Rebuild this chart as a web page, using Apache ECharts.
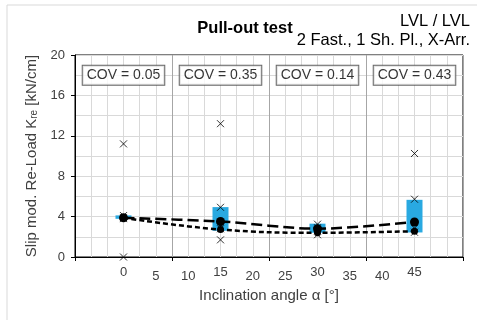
<!DOCTYPE html>
<html>
<head>
<meta charset="utf-8">
<script src="https://cdn.jsdelivr.net/npm/echarts@6/dist/echarts.min.js"></script>
<style>
  html, body { margin: 0; padding: 0; background: #fff; }
  #chart { width: 477px; height: 320px; }
</style>
</head>
<body>
<div id="chart"></div>
<script>
  // inclination angles (x positions of the groups)
  var angles = [0, 15, 30, 45]
  var covLabels = ['COV = 0.05', 'COV = 0.35', 'COV = 0.14', 'COV = 0.43']
  // blue range bars [angle, low, high]
  var rangeBars = [[0, 3.78, 4.12], [15, 2.6, 4.94], [30, 2.4, 3.3], [45, 2.43, 5.66]]
  // mean lines
  var lineA = [3.88, 3.52, 2.8, 3.47]
  var lineB = [3.88, 2.72, 2.4, 2.55]
  // single test values
  var singles = [
    [0, 11.2], [0, 0], [0, 4.1], [0, 3.9], [0, 3.8],
    [15, 13.2], [15, 4.92], [15, 1.7], [15, 2.8], [15, 3.0],
    [30, 3.25], [30, 2.2], [30, 2.6], [30, 2.9],
    [45, 10.25], [45, 5.72], [45, 2.85], [45, 2.45]
  ]
  var yTicks = [0, 4, 8, 12, 16, 20]

  var minorGrey = '#d9d9d9'
  var majorGrey = '#a6a6a6'
  var crossPath = 'path://M0,0L10,10M10,0L0,10'

  var chart = echarts.init(document.getElementById('chart'))
  chart.setOption({
    animation: false,
    textStyle: { fontFamily: 'Liberation Sans, Arial, sans-serif' },
    graphic: [
      { type: 'rect', shape: { x: 7, y: 5, width: 500, height: 400 }, style: { fill: 'none', stroke: minorGrey, lineWidth: 1 }, z: -1 },
      { type: 'text', x: 245, y: 28, style: { text: 'Pull-out test', font: 'bold 16.5px Liberation Sans', fill: '#000', align: 'center', verticalAlign: 'middle' } },
      { type: 'text', x: 470, y: 21, style: { text: 'LVL / LVL', font: '16.5px Liberation Sans', fill: '#000', align: 'right', verticalAlign: 'middle' } },
      { type: 'text', x: 470, y: 40, style: { text: '2 Fast., 1 Sh. Pl., X-Arr.', font: '16.5px Liberation Sans', fill: '#000', align: 'right', verticalAlign: 'middle' } }
    ],
    grid: {
      left: 75,
      right: 14,
      top: 55,
      bottom: 63,
      show: true,
      borderColor: '#000',
      borderWidth: 1,
      backgroundColor: 'transparent'
    },
    xAxis: [
      {
        type: 'value',
        position: 'bottom',
        min: -7.5,
        max: 52.5,
        interval: 2.5,
        name: 'Inclination angle α [°]',
        nameLocation: 'middle',
        nameGap: 31,
        nameTextStyle: { fontSize: 15, color: '#404040' },
        axisLine: { show: true, onZero: false, lineStyle: { color: '#000', width: 1 } },
        axisTick: { show: false },
        axisLabel: {
          margin: 9,
          fontSize: 13,
          color: '#404040',
          formatter: function (v) {
            if (v < 0 || v > 45 || v % 5 !== 0) return ''
            return v % 15 === 0 ? '{a|' + v + '}' : '{b|' + v + '}'
          },
          rich: {
            a: { fontSize: 13, color: '#404040', padding: [0, 0, 0, 0] },
            b: { fontSize: 13, color: '#404040', padding: [4, 0, 0, 0] }
          }
        },
        splitLine: {
          show: true,
          lineStyle: { color: [majorGrey, minorGrey, minorGrey, minorGrey, minorGrey, minorGrey], width: 1 }
        }
      },
      {
        type: 'value',
        position: 'bottom',
        min: 0,
        max: 4,
        interval: 1,
        axisLine: { show: false, onZero: false },
        axisTick: { show: true, inside: false, length: 4, lineStyle: { color: '#000' } },
        axisLabel: { show: false },
        splitLine: { show: false }
      }
    ],
    yAxis: {
      type: 'value',
      min: 0,
      max: 20,
      interval: 4,
      name: 'Slip mod. Re-Load K{sub|re} [kN/cm]',
      nameLocation: 'middle',
      nameRotate: 90,
      nameGap: 32,
      nameTextStyle: {
        fontSize: 15,
        color: '#404040',
        rich: { sub: { fontSize: 10, color: '#404040', verticalAlign: 'bottom', padding: [6, 0, 0, 0] } }
      },
      axisLine: { show: true, onZero: false, lineStyle: { color: '#000', width: 1 } },
      axisTick: { show: true, inside: false, length: 4, lineStyle: { color: '#000' } },
      axisLabel: {
        margin: 10,
        fontSize: 13,
        color: '#404040',
        formatter: function (v) { return yTicks.indexOf(v) >= 0 ? String(v) : '' }
      },
      splitLine: { show: true, lineStyle: { color: minorGrey, width: 1 } },
      minorTick: { show: false, splitNumber: 2 },
      minorSplitLine: { show: true, lineStyle: { color: minorGrey, width: 1 } }
    },
    series: [
      {
        type: 'custom',
        name: 'range',
        xAxisIndex: 0,
        data: rangeBars,
        renderItem: function (params, api) {
          var x = api.value(0)
          var top = api.coord([x, api.value(2)])
          var bot = api.coord([x, api.value(1)])
          return {
            type: 'rect',
            shape: { x: top[0] - 8, y: top[1], width: 16, height: bot[1] - top[1] },
            style: { fill: '#29a9e1' }
          }
        },
        z: 2
      },
      {
        type: 'line',
        name: 'mean A',
        xAxisIndex: 0,
        data: angles.map(function (a, i) { return [a, lineA[i]] }),
        smooth: 0.3,
        symbol: 'circle',
        symbolSize: 9,
        itemStyle: { color: '#000' },
        lineStyle: { color: '#000', width: 2.5, type: [11, 5] },
        z: 4
      },
      {
        type: 'line',
        name: 'mean B',
        xAxisIndex: 0,
        data: angles.map(function (a, i) { return [a, lineB[i]] }),
        smooth: 0.4,
        symbol: 'circle',
        symbolSize: 7,
        itemStyle: { color: '#000' },
        lineStyle: { color: '#000', width: 2.5, type: [5, 3] },
        z: 4
      },
      {
        type: 'scatter',
        name: 'singles',
        xAxisIndex: 0,
        data: singles,
        symbol: crossPath,
        symbolSize: 7,
        itemStyle: { color: 'none', borderColor: '#000', borderWidth: 1 },
        z: 5
      },
      {
        type: 'scatter',
        name: 'cov',
        xAxisIndex: 0,
        data: angles.map(function (a) { return [a, 18] }),
        symbolSize: 0,
        silent: true,
        label: {
          show: true,
          position: 'inside',
          formatter: function (p) { return covLabels[p.dataIndex] },
          fontSize: 14,
          color: '#000',
          backgroundColor: '#fff',
          borderColor: '#404040',
          borderWidth: 1,
          padding: [3, 4, 2, 4]
        },
        z: 6
      }
    ]
  })
</script>
</body>
</html>
